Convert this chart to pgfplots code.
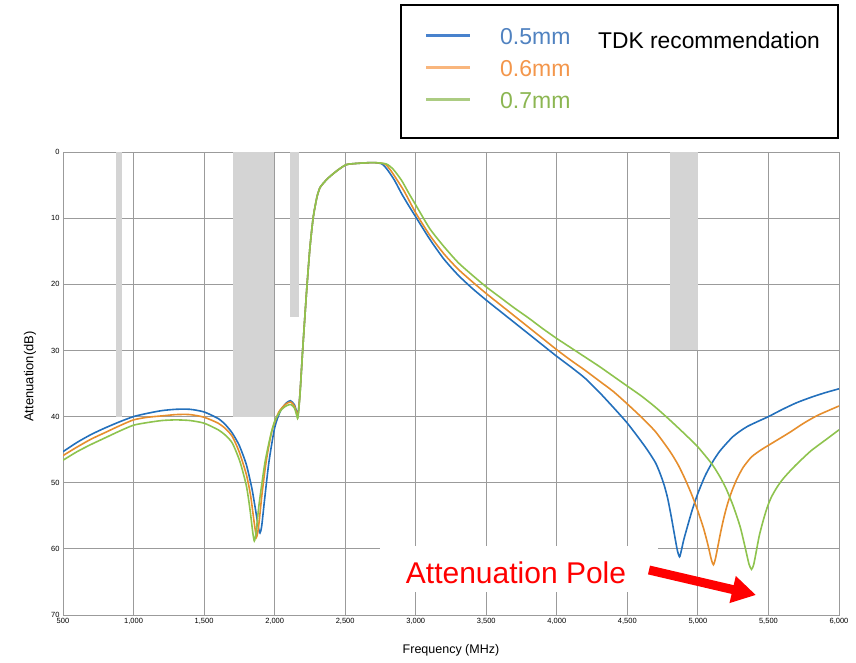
\documentclass[border=0pt]{standalone}
\usepackage{fontspec}
\setmainfont{Liberation Sans}
\usepackage{pgfplots}
\pgfplotsset{compat=1.18}
\usetikzlibrary{arrows.meta}

\definecolor{cblue}{RGB}{35,112,188}
\definecolor{corange}{RGB}{230,142,45}
\definecolor{cgreen}{RGB}{142,195,78}
\definecolor{lblue}{RGB}{72,130,205}
\definecolor{lorange}{RGB}{249,182,125}
\definecolor{lgreen}{RGB}{172,204,130}
\definecolor{tblue}{RGB}{80,130,192}
\definecolor{torange}{RGB}{243,150,75}
\definecolor{tgreen}{RGB}{140,182,82}
\definecolor{band}{RGB}{212,212,212}
\definecolor{gridc}{RGB}{155,155,155}

\begin{document}
\begin{tikzpicture}
\path[use as bounding box] (0pt,0pt) rectangle (856pt,662pt);
\begin{axis}[
    scale only axis,
    width=776pt, height=463pt,
    at={(63pt,47pt)}, anchor=south west,
    xmin=500, xmax=6000,
    ymin=0, ymax=70,
    y dir=reverse,
    xtick distance=500,
    ytick={0,10,...,70},
    scaled x ticks=false,
    grid=major,
    major grid style={gridc, line width=1pt},
    axis line style={gridc, line width=1pt},
    major tick length=0pt,
    tick label style={font=\fontsize{7.5}{8}\selectfont},
    /pgf/number format/assume math mode=true,
    /pgf/number format/1000 sep={,},
    xlabel={Frequency (MHz)},
    ylabel={Attenuation(dB)},
    xlabel style={at={(rel axis cs:0.5,0)}, anchor=center, yshift=-35pt, font=\fontsize{12.5}{14}\selectfont},
    ylabel style={at={(rel axis cs:0,0.5)}, anchor=center, yshift=33pt, xshift=7pt, font=\fontsize{13}{15}\selectfont},
    clip=true,
]
% gray bands
\addplot[fill=band, draw=none] coordinates {(876,0) (918,0) (918,40) (876,40)} -- cycle;
\addplot[fill=band, draw=none] coordinates {(1705,0) (1995,0) (1995,40) (1705,40)} -- cycle;
\addplot[fill=band, draw=none] coordinates {(2109,0) (2172,0) (2172,25) (2109,25)} -- cycle;
\addplot[fill=band, draw=none] coordinates {(4802,0) (5000,0) (5000,30) (4802,30)} -- cycle;

% 0.5mm
\addplot[cblue, line width=1.6pt, smooth, tension=0.4] coordinates {
(500,45.3)(600,43.9)(700,42.7)(800,41.7)(900,40.8)(1000,40.0)(1100,39.5)(1200,39.1)(1300,38.9)(1400,38.9)(1500,39.3)(1600,40.3)(1650,41.2)(1700,42.5)(1750,44.4)(1800,47.3)(1840,51.0)(1870,54.8)(1885,56.8)(1896,57.6)(1908,56.6)(1930,52.3)(1960,46.8)(2000,41.7)(2040,39.2)(2080,38.0)(2112,37.6)(2140,38.2)(2155,39.2)(2165,39.8)(2180,36.4)(2200,29.5)(2227,20.9)(2250,14.5)(2274,9.8)(2300,6.8)(2321,5.4)(2350,4.6)(2392,3.7)(2450,2.7)(2510,1.9)(2600,1.7)(2700,1.6)(2760,1.8)(2800,2.7)(2850,4.3)(2900,6.3)(2950,8.1)(3000,9.8)(3100,13.2)(3200,16.2)(3300,18.6)(3400,20.6)(3500,22.4)(3600,24.1)(3700,25.8)(3800,27.5)(3900,29.2)(4000,30.9)(4100,32.5)(4200,34.2)(4300,36.3)(4400,38.6)(4500,41.0)(4600,43.8)(4650,45.3)(4700,47.0)(4730,48.5)(4760,50.3)(4785,52.3)(4810,55.0)(4835,58.0)(4855,60.3)(4870,61.2)(4882,60.3)(4900,58.6)(4930,56.3)(4960,54.1)(5000,51.6)(5050,49.0)(5100,47.0)(5156,45.2)(5250,43.0)(5350,41.5)(5500,40.0)(5600,38.9)(5700,37.9)(5800,37.1)(5900,36.4)(6000,35.8)
};
% 0.6mm
\addplot[corange, line width=1.6pt, smooth, tension=0.4] coordinates {
(500,45.9)(600,44.6)(700,43.4)(800,42.4)(900,41.4)(1000,40.5)(1100,40.1)(1200,39.9)(1300,39.7)(1400,39.7)(1500,40.1)(1600,41.0)(1650,41.8)(1700,43.0)(1750,45.4)(1800,48.8)(1830,52.0)(1855,56.0)(1872,58.2)(1888,56.3)(1910,51.8)(1940,46.8)(1980,42.2)(2030,39.3)(2080,38.1)(2114,37.8)(2140,38.4)(2155,39.4)(2165,39.9)(2180,36.4)(2200,29.5)(2227,20.9)(2250,14.5)(2274,9.8)(2300,6.8)(2321,5.4)(2350,4.6)(2392,3.7)(2450,2.7)(2510,1.9)(2600,1.7)(2700,1.6)(2780,1.8)(2820,2.7)(2870,4.3)(2920,6.0)(3000,9.2)(3100,12.6)(3200,15.4)(3300,17.7)(3400,19.6)(3500,21.4)(3600,23.1)(3700,24.8)(3800,26.5)(3900,28.2)(4000,29.9)(4100,31.5)(4200,33.0)(4300,34.6)(4400,36.2)(4500,38.1)(4600,40.1)(4700,42.3)(4800,45.2)(4860,47.3)(4910,49.5)(4960,52.0)(5000,54.3)(5040,56.9)(5070,59.3)(5095,61.6)(5110,62.4)(5124,61.5)(5140,59.8)(5160,57.6)(5185,55.2)(5210,53.2)(5240,51.3)(5275,49.5)(5320,47.7)(5380,46.1)(5450,45.0)(5550,43.7)(5650,42.4)(5750,41.0)(5850,39.8)(6000,38.4)
};
% 0.7mm
\addplot[cgreen, line width=1.6pt, smooth, tension=0.4] coordinates {
(500,46.6)(600,45.3)(700,44.2)(800,43.2)(900,42.2)(1000,41.3)(1100,40.9)(1200,40.6)(1300,40.5)(1400,40.6)(1500,41.0)(1600,42.0)(1650,42.8)(1700,44.0)(1754,46.8)(1800,50.5)(1825,54.0)(1845,57.5)(1856,58.8)(1868,57.6)(1890,53.2)(1931,47.0)(1970,43.0)(2002,40.6)(2050,38.9)(2090,38.3)(2116,38.2)(2140,38.7)(2155,39.7)(2165,40.2)(2180,36.6)(2200,29.5)(2227,20.9)(2250,14.5)(2274,9.8)(2300,6.8)(2321,5.4)(2350,4.6)(2392,3.7)(2450,2.7)(2510,1.9)(2600,1.7)(2700,1.6)(2790,1.8)(2840,2.6)(2900,4.3)(2950,6.2)(3000,8.0)(3100,11.6)(3200,14.3)(3300,16.7)(3400,18.6)(3500,20.4)(3600,22.0)(3700,23.6)(3800,25.1)(3900,26.7)(4000,28.2)(4100,29.6)(4200,31.0)(4300,32.4)(4400,33.9)(4500,35.4)(4600,36.9)(4700,38.6)(4800,40.5)(4900,42.5)(5000,44.6)(5100,47.2)(5156,49.1)(5200,50.9)(5250,53.5)(5300,56.7)(5335,59.8)(5362,62.3)(5380,63.1)(5395,62.4)(5410,60.8)(5435,58.0)(5463,55.7)(5490,53.8)(5520,52.2)(5560,50.7)(5600,49.5)(5650,48.3)(5700,47.2)(5800,45.2)(5900,43.6)(6000,42.0)
};
\end{axis}

% legend box
\draw[line width=1.3pt] (401pt,657pt) rectangle (838pt,524pt);
\draw[lblue, line width=3pt] (426pt,626pt) -- (470pt,626pt);
\draw[lorange, line width=3pt] (426pt,594pt) -- (470pt,594pt);
\draw[lgreen, line width=3pt] (426pt,562pt) -- (470pt,562pt);
\node[anchor=west, inner sep=0pt, text=tblue, font=\fontsize{23}{26}\selectfont] at (500pt,625pt) {0.5mm};
\node[anchor=west, inner sep=0pt, text=torange, font=\fontsize{23}{26}\selectfont] at (500pt,593pt) {0.6mm};
\node[anchor=west, inner sep=0pt, text=tgreen, font=\fontsize{23}{26}\selectfont] at (500pt,561pt) {0.7mm};
\node[anchor=west, inner sep=0pt, font=\fontsize{22.8}{25}\selectfont] at (598pt,622pt) {TDK recommendation};

% annotation
\fill[white] (380pt,70pt) rectangle (658pt,116pt);
\node[text=red, inner sep=0pt, font=\fontsize{30}{34}\selectfont] at (516pt,89pt) {Attenuation Pole};
\draw[red, line width=9pt, -{Triangle[length=24pt, width=26pt]}] (649pt,92pt) -- (756pt,67pt);
\end{tikzpicture}
\end{document}
